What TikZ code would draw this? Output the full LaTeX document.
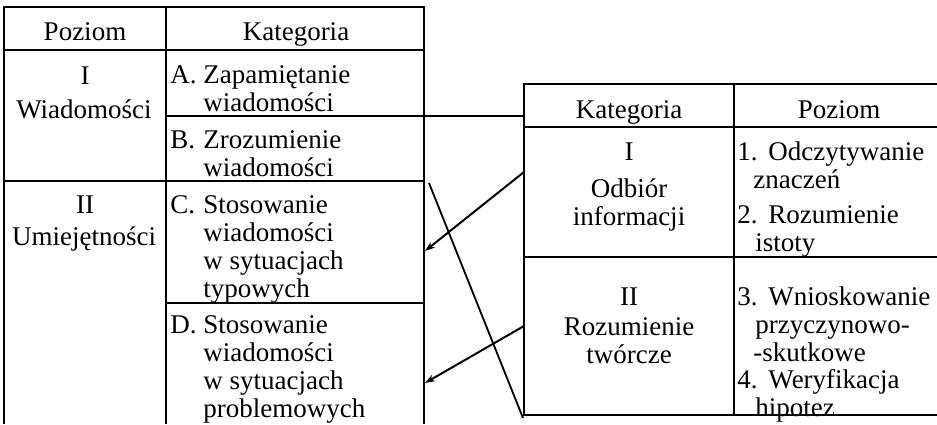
\documentclass[tikz,border=0pt]{standalone}
\usepackage{fontspec}
\setmainfont{Liberation Serif}
\usetikzlibrary{arrows.meta}
\begin{document}
\begin{tikzpicture}[x=0.5pt,y=-0.5pt,
  rule/.style={line width=1pt},
  txt/.style={inner sep=0pt,font=\fontsize{13.5}{14}\selectfont},
  itm/.style={txt,anchor=base west},
  ctr/.style={txt,anchor=base},
  link/.style={line width=1pt,-{Stealth[length=5pt,width=3.5pt]}}]
\useasboundingbox (0,0) rectangle (937,424);
% left table
\draw[rule] (4,424) -- (4,7) -- (424,7) -- (424,424);
\draw[rule] (166,7) -- (166,424);
\draw[rule] (4,50) -- (424,50);
\draw[rule] (166,116) -- (424,116);
\draw[rule] (4,181) -- (424,181);
\draw[rule] (166,303) -- (424,303);
% right table
\draw[rule] (937,84) -- (524,84) -- (524,415) -- (937,415);
\draw[rule] (524,127) -- (937,127);
\draw[rule] (524,257) -- (937,257);
\draw[rule] (734,84) -- (734,415);
% left texts
\node[ctr] (lh1) at (85,40) {Poziom};
\node[ctr] (lh2) at (296,40) {Kategoria};
\node[ctr] (l1a) at (85,84) {I};
\node[ctr] (l1b) at (84,118) {Wiadomości};
\node[ctr] (l2a) at (85,213) {II};
\node[ctr] (l2b) at (84,245) {Umiejętności};
\node[itm] (A) at (170,83) {\begin{tabular}[t]{@{}l@{}}\makebox[16.5pt][l]{A.}Zapamiętanie\\\hspace*{16.5pt}wiadomości\end{tabular}};
\node[itm] (B) at (170,148) {\begin{tabular}[t]{@{}l@{}}\makebox[16.5pt][l]{B.}Zrozumienie\\\hspace*{16.5pt}wiadomości\end{tabular}};
\node[itm] (C) at (170,213) {\begin{tabular}[t]{@{}l@{}}\makebox[16.5pt][l]{C.}Stosowanie\\\hspace*{16.5pt}wiadomości\\\hspace*{16.5pt}w sytuacjach\\\hspace*{16.5pt}typowych\end{tabular}};
\node[itm] (D) at (170,333) {\begin{tabular}[t]{@{}l@{}}\makebox[16.5pt][l]{D.}Stosowanie\\\hspace*{16.5pt}wiadomości\\\hspace*{16.5pt}w sytuacjach\\\hspace*{16.5pt}problemowych\end{tabular}};
% right texts
\node[ctr] (rh1) at (629,118) {Kategoria};
\node[ctr] (rh2) at (839,118) {Poziom};
\node[ctr] (r1a) at (629,160) {I};
\node[ctr] (r1b) at (629,197) {Odbiór};
\node[ctr] (r1c) at (629,225) {informacji};
\node[ctr] (r2a) at (629,305) {II};
\node[ctr] (r2b) at (629,335) {Rozumienie};
\node[ctr] (r2c) at (629,363) {twórcze};
\node[itm] (P1) at (737,160) {\begin{tabular}[t]{@{}l@{}}\makebox[15.5pt][l]{1.}Odczytywanie\\\hspace*{8pt}znaczeń\end{tabular}};
\node[itm] (P2) at (737,223) {\begin{tabular}[t]{@{}l@{}}\makebox[15.5pt][l]{2.}Rozumienie\\\hspace*{9pt}istoty\end{tabular}};
\node[itm] (P3) at (737,305) {\begin{tabular}[t]{@{}l@{}}\makebox[15.5pt][l]{3.}Wnioskowanie\\\hspace*{9pt}przyczynowo-\\\hspace*{8pt}-skutkowe\end{tabular}};
\node[itm] (P4) at (737,388) {\begin{tabular}[t]{@{}l@{}}\makebox[15.5pt][l]{4.}Weryfikacja\\\hspace*{9pt}hipotez\end{tabular}};
% connectors
\coordinate (LAB) at (424,116);
\coordinate (RK) at (524,116);
\draw[rule] (LAB) -- (RK);
\coordinate (R1) at (524,172);
\coordinate (LC) at (425,251);
\draw[link] (R1) -- (LC);
\coordinate (R2) at (524,326);
\coordinate (LD) at (425,383);
\draw[link] (R2) -- (LD);
\coordinate (X1) at (429,183);
\coordinate (X2) at (523,418);
\draw[line width=0.9pt] (X1) -- (X2);
\end{tikzpicture}
\end{document}
